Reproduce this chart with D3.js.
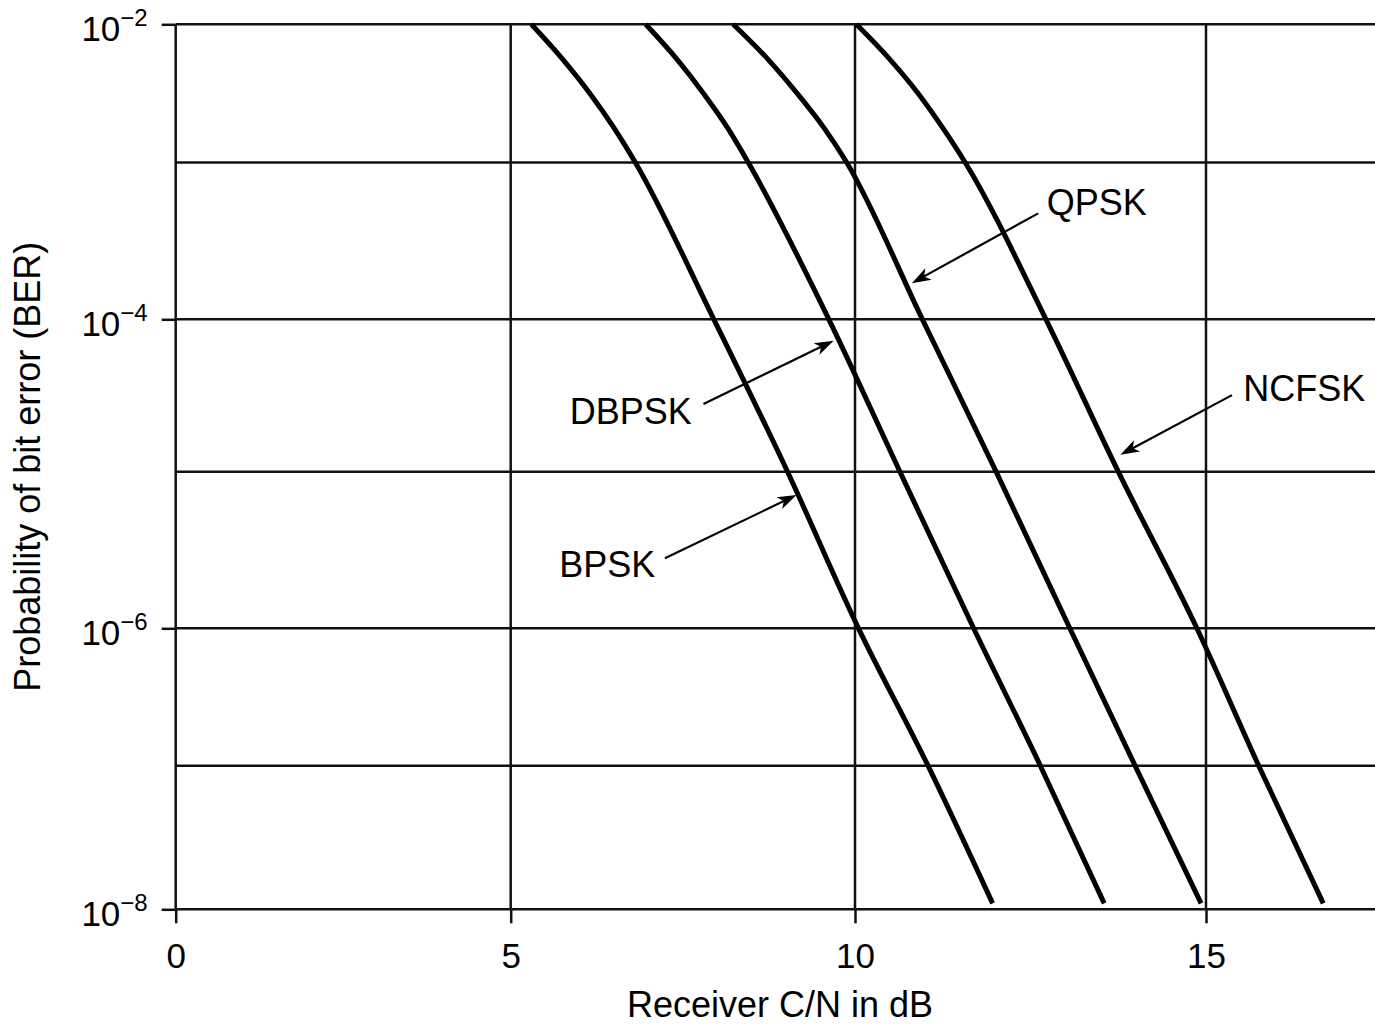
<!DOCTYPE html>
<html><head><meta charset="utf-8">
<script src="https://cdn.jsdelivr.net/npm/d3@7"></script>
<style>
body{margin:0;background:#fff;}
svg{display:block;}
text{font-family:"Liberation Sans",Arial,Helvetica,sans-serif;fill:#000;}
</style>
</head><body>
<svg id="chart" width="1375" height="1024"></svg>
<script>
// ---------- data ----------
const xTickValues = [0, 5, 10, 15];
const xTickLabels = ["0", "5", "10", "15"];
const yGridValues = [1e-2, 1e-3, 1e-4, 1e-5, 1e-6, 1e-7, 1e-8];
const yLabelValues = [1e-2, 1e-4, 1e-6, 1e-8];
const yLabelExponents = ["−2", "−4", "−6", "−8"];
const seriesNames = ["BPSK", "DBPSK", "QPSK", "NCFSK"];
// BER values at which each curve was read (shared by all series)
const berValues = [1e-2, 5.62e-3, 3.16e-3, 1.78e-3, 1e-3, 1e-4, 1e-5, 1e-6, 1e-7, 1.1e-8];
// Receiver C/N (dB) at those BER values
const bpskDb  = [5.30, 5.75, 6.15, 6.50, 6.81, 7.95, 9.02, 10.05, 11.04, 11.96];
const dbpskDb = [6.96, 7.41, 7.80, 8.15, 8.45, 9.62, 10.64, 11.69, 12.64, 13.55];
const qpskDb  = [8.23, 8.73, 9.16, 9.55, 9.88, 10.96, 12.01, 13.06, 13.99, 14.93];
const ncfskDb = [10.02, 10.49, 10.90, 11.25, 11.57, 12.72, 13.75, 14.87, 15.75, 16.67];
const seriesDb = [bpskDb, dbpskDb, qpskDb, ncfskDb];

// ---------- layout ----------
const W = 1375, H = 1024;
// the printed grid is slightly uneven, so the scales follow its printed grid lines
const x = d3.scaleLinear().domain([0, 5, 10, 15, 17.5]).range([175.7, 510.7, 855, 1206, 1381.5]);
const y = d3.scaleLog().domain([1e-2, 1e-3, 1e-4, 1e-5, 1e-6, 1e-7, 1e-8])
  .range([24.3, 162.5, 319.3, 471.7, 628.3, 765.7, 909.3]);
const svg = d3.select("#chart");
const ink = "#111";

// horizontal grid lines
svg.append("g").selectAll("line").data(yGridValues).join("line")
  .attr("x1", x(0)).attr("x2", W)
  .attr("y1", d => y(d)).attr("y2", d => y(d))
  .attr("stroke", ink).attr("stroke-width", 2.5);

// vertical grid lines
svg.append("g").selectAll("line").data(xTickValues).join("line")
  .attr("x1", d => x(d)).attr("x2", d => x(d))
  .attr("y1", y(1e-2)).attr("y2", y(1e-8))
  .attr("stroke", ink).attr("stroke-width", 2.5);

// bottom axis (ticks + labels)
const xAxis = svg.append("g")
  .attr("transform", `translate(0,${y(1e-8)})`)
  .call(d3.axisBottom(x).tickValues(xTickValues).tickSize(14).tickPadding(20)
        .tickFormat((d, i) => xTickLabels[i]));
xAxis.select(".domain").remove();
xAxis.selectAll(".tick line").attr("stroke", ink).attr("stroke-width", 2.5);
xAxis.selectAll(".tick text").attr("font-size", 35).attr("font-family", null).attr("fill", "#000");

// left axis (ticks + superscript labels)
const yAxis = svg.append("g")
  .attr("transform", `translate(${x(0)},0)`)
  .call(d3.axisLeft(y).tickValues(yLabelValues).tickSize(14).tickFormat(""));
yAxis.select(".domain").remove();
yAxis.selectAll(".tick line").attr("stroke", ink).attr("stroke-width", 2.5);
yAxis.selectAll(".tick").each(function(d, i) {
  const t = d3.select(this).append("text")
    .attr("x", -28).attr("y", 16).attr("text-anchor", "end")
    .attr("font-size", 35).attr("fill", "#000").attr("font-family", null);
  t.append("tspan").text("10");
  t.append("tspan").attr("font-size", 24).attr("dy", -15).text(yLabelExponents[i]);
});

// axis titles
svg.append("text").attr("x", 780).attr("y", 1017).attr("text-anchor", "middle")
  .attr("font-size", 36).text("Receiver C/N in dB");
svg.append("text").attr("transform", `translate(40,${(y(1e-2) + y(1e-8)) / 2}) rotate(-90)`)
  .attr("text-anchor", "middle").attr("font-size", 36).text("Probability of bit error (BER)");

// curves
const line = d3.line().x(d => x(d[0])).y(d => y(d[1])).curve(d3.curveMonotoneX);
svg.append("g").selectAll("path").data(seriesDb).join("path")
  .attr("d", dbs => line(dbs.map((v, i) => [v, berValues[i]])))
  .attr("fill", "none").attr("stroke", "#000").attr("stroke-width", 5)
  .attr("stroke-linejoin", "round");

// annotations (label anchor and arrow in data units)
const annotations = [
  {name: "QPSK",  text: [12.73, 4.62e-4, "start"], from: [12.61, 4.74e-4], to: [10.81, 1.70e-4]},
  {name: "NCFSK", text: [15.53, 2.92e-5, "start"], from: [15.37, 3.18e-5], to: [13.78, 1.29e-5]},
  {name: "DBPSK", text: [7.63, 2.06e-5, "end"],    from: [7.80, 2.78e-5],  to: [9.69, 7.24e-5]},
  {name: "BPSK",  text: [7.10, 2.13e-6, "end"],    from: [7.24, 2.80e-6],  to: [9.15, 7.10e-6]}
];
const ag = svg.append("g");
annotations.forEach(a => {
  const tx = x(a.text[0]), ty = y(a.text[1]);
  ag.append("text").attr("x", tx).attr("y", ty).attr("text-anchor", a.text[2])
    .attr("font-size", 36).text(a.name);
  const x1 = x(a.from[0]), y1 = y(a.from[1]), x2 = x(a.to[0]), y2 = y(a.to[1]);
  const ang = Math.atan2(y2 - y1, x2 - x1);
  const L = 19, Wd = 6.5, N = 14;
  const ca = Math.cos(ang), sa = Math.sin(ang);
  const pt = (u, v) => [x2 + u * ca - v * sa, y2 + u * sa + v * ca];
  ag.append("line").attr("x1", x1).attr("y1", y1)
    .attr("x2", pt(-N, 0)[0]).attr("y2", pt(-N, 0)[1])
    .attr("stroke", "#000").attr("stroke-width", 2.2);
  ag.append("path")
    .attr("d", "M" + [pt(0, 0), pt(-L, -Wd), pt(-N, 0), pt(-L, Wd)].map(p => p.join(",")).join("L") + "Z")
    .attr("fill", "#000");
});
</script>
</body></html>
